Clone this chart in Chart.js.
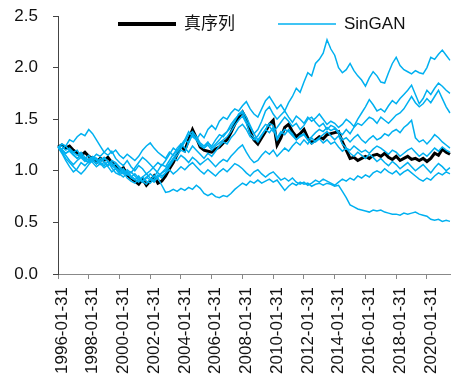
<!DOCTYPE html>
<html><head><meta charset="utf-8">
<script src="https://cdn.jsdelivr.net/npm/chart.js@4"></script>
<style>html,body{margin:0;padding:0;background:#fff}</style>
</head><body>
<canvas id="c" width="462" height="387"></canvas>
<script>
// Quarterly month-end categories, 1996-01 .. 2021-07
const startYear = 1996, nQuarters = 103;
const categories = [];
for (let q = 0; q < nQuarters; q++) {
  const y = startYear + Math.floor(q / 4), m = 1 + 3 * (q % 4);
  const d = new Date(Date.UTC(y, m, 0)).getUTCDate();
  categories.push(y + '-' + String(m).padStart(2, '0') + '-' + String(d).padStart(2, '0'));
}
const tickLabels = ['1996-01-31','1998-01-31','2000-01-31','2002-01-31','2004-01-31','2006-01-31',
  '2008-01-31','2010-01-31','2012-01-31','2014-01-31','2016-01-31','2018-01-31','2020-01-31'];
const yTicks = [0, 0.5, 1.0, 1.5, 2.0, 2.5];
const seriesNames = ['真序列', 'SinGAN'];

const realSeries = [
 1.23,1.25,1.22,1.24, 1.20,1.17,1.15,1.18, 1.14,1.12,1.08,1.12, 1.10,1.13,1.08,1.05,
 1.00,1.03,0.96,0.93, 0.90,0.87,0.92,0.86, 0.90,0.95,0.88,0.90, 0.95,1.02,1.08,1.16,
 1.24,1.20,1.30,1.40, 1.32,1.23,1.20,1.19, 1.18,1.21,1.23,1.27, 1.30,1.37,1.45,1.52,
 1.57,1.50,1.38,1.30, 1.26,1.32,1.38,1.45, 1.49,1.25,1.32,1.42, 1.45,1.38,1.33,1.36,
 1.40,1.32,1.27,1.30, 1.33,1.31,1.35,1.36, 1.37,1.38,1.28,1.20, 1.12,1.13,1.10,1.12,
 1.14,1.12,1.15,1.16, 1.14,1.17,1.13,1.11, 1.14,1.10,1.12,1.14, 1.11,1.12,1.10,1.12,
 1.09,1.12,1.17,1.15, 1.21,1.18,1.16];
const singan1 = [
 1.23,1.21,1.24,1.20, 1.18,1.15,1.18,1.13, 1.10,1.14,1.12,1.08, 1.05,1.09,1.03,0.98,
 0.96,0.99,0.93,0.90, 0.88,0.92,0.89,0.93, 0.97,0.94,1.00,1.06, 1.04,1.10,1.16,1.20,
 1.22,1.30,1.38,1.33, 1.30,1.36,1.32,1.40, 1.44,1.40,1.48,1.52, 1.50,1.56,1.60,1.58,
 1.63,1.67,1.60,1.55, 1.52,1.60,1.68,1.72, 1.66,1.60,1.64,1.58, 1.66,1.72,1.80,1.76,
 1.86,1.95,1.92,2.04, 2.08,2.14,2.27,2.18, 2.12,2.00,1.95,1.98, 2.04,1.97,1.92,1.88,
 1.82,1.90,1.96,1.92, 1.86,1.85,1.95,2.04, 2.10,2.02,1.98,1.96, 1.94,1.97,1.95,1.94,
 2.00,2.10,2.08,2.13, 2.17,2.12,2.07];
const singan2 = [
 1.23,1.26,1.24,1.30, 1.28,1.33,1.36,1.34, 1.40,1.36,1.30,1.24, 1.18,1.15,1.19,1.12,
 1.08,1.05,1.10,1.04, 1.00,1.05,1.02,0.97, 1.00,1.04,1.08,1.05, 1.10,1.16,1.22,1.19,
 1.25,1.30,1.27,1.35, 1.30,1.26,1.22,1.27, 1.24,1.30,1.35,1.33, 1.38,1.45,1.50,1.54,
 1.56,1.48,1.42,1.36, 1.40,1.48,1.58,1.62, 1.55,1.50,1.54,1.58, 1.52,1.47,1.53,1.50,
 1.46,1.52,1.48,1.51, 1.55,1.50,1.45,1.48, 1.46,1.42,1.45,1.50, 1.47,1.43,1.50,1.56,
 1.62,1.69,1.64,1.58, 1.60,1.57,1.63,1.68, 1.65,1.70,1.74,1.78, 1.83,1.74,1.65,1.70,
 1.78,1.74,1.80,1.85, 1.82,1.78,1.75];
const singan3 = [
 1.23,1.20,1.17,1.19, 1.15,1.12,1.16,1.10, 1.08,1.12,1.16,1.14, 1.18,1.22,1.17,1.20,
 1.15,1.12,1.16,1.13, 1.10,1.14,1.20,1.24, 1.27,1.22,1.18,1.15, 1.12,1.18,1.15,1.22,
 1.26,1.22,1.18,1.24, 1.20,1.16,1.12,1.17, 1.14,1.19,1.24,1.28, 1.26,1.32,1.36,1.42,
 1.45,1.40,1.33,1.30, 1.34,1.40,1.45,1.43, 1.38,1.42,1.47,1.52, 1.48,1.43,1.46,1.40,
 1.44,1.50,1.52,1.47, 1.43,1.46,1.40,1.44, 1.42,1.38,1.35,1.40, 1.36,1.42,1.46,1.44,
 1.48,1.52,1.50,1.46, 1.52,1.49,1.46,1.50, 1.54,1.56,1.60,1.66, 1.72,1.66,1.62,1.65,
 1.70,1.66,1.72,1.78, 1.70,1.62,1.56];
const singan4 = [
 1.23,1.17,1.10,1.04, 0.99,1.02,1.08,1.05, 1.09,1.13,1.10,1.06, 1.08,1.04,0.99,1.02,
 0.97,0.94,0.98,0.93, 0.91,0.95,0.90,0.87, 0.92,0.89,0.94,0.98, 1.00,1.06,1.12,1.18,
 1.22,1.28,1.35,1.38, 1.33,1.27,1.24,1.28, 1.22,1.26,1.30,1.35, 1.38,1.42,1.48,1.55,
 1.58,1.52,1.44,1.36, 1.30,1.35,1.40,1.46, 1.44,1.32,1.38,1.35, 1.40,1.36,1.30,1.34,
 1.36,1.30,1.33,1.37, 1.40,1.38,1.42,1.39, 1.41,1.36,1.30,1.32, 1.28,1.32,1.35,1.30,
 1.27,1.31,1.34,1.30, 1.32,1.36,1.34,1.38, 1.40,1.37,1.42,1.45, 1.49,1.32,1.28,1.30,
 1.26,1.30,1.35,1.32, 1.28,1.25,1.22];
const singan5 = [
 1.23,1.24,1.20,1.22, 1.18,1.20,1.14,1.12, 1.15,1.10,1.12,1.08, 1.12,1.09,1.05,1.07,
 1.02,0.98,1.00,0.95, 0.92,0.89,0.94,0.90, 0.88,0.92,0.96,0.93, 0.98,1.04,1.10,1.15,
 1.20,1.18,1.28,1.36, 1.30,1.24,1.22,1.25, 1.20,1.24,1.27,1.30, 1.33,1.38,1.44,1.49,
 1.53,1.46,1.36,1.32, 1.28,1.34,1.40,1.37, 1.42,1.30,1.36,1.40, 1.38,1.34,1.30,1.33,
 1.35,1.30,1.26,1.29, 1.32,1.35,1.38,1.34, 1.30,1.34,1.26,1.22, 1.20,1.24,1.21,1.18,
 1.20,1.17,1.21,1.24, 1.22,1.19,1.16,1.20, 1.18,1.14,1.17,1.20, 1.22,1.18,1.14,1.17,
 1.14,1.18,1.22,1.19, 1.23,1.20,1.18];
const singan6 = [
 1.23,1.19,1.15,1.10, 1.06,1.10,1.13,1.09, 1.12,1.08,1.04,1.07, 1.03,1.06,1.10,1.08,
 1.04,1.00,0.96,0.99, 0.95,0.91,0.94,0.97, 0.93,0.90,0.94,0.98, 1.02,1.07,1.12,1.10,
 1.15,1.12,1.08,1.13, 1.10,1.06,1.09,1.12, 1.08,1.04,1.08,1.11, 1.09,1.14,1.18,1.22,
 1.25,1.18,1.12,1.08, 1.10,1.15,1.19,1.16, 1.20,1.14,1.18,1.22, 1.19,1.24,1.28,1.25,
 1.30,1.26,1.32,1.28, 1.31,1.27,1.30,1.26, 1.28,1.23,1.19,1.22, 1.17,1.14,1.18,1.15,
 1.12,1.16,1.13,1.09, 1.12,1.08,1.05,1.09, 1.06,1.02,1.05,1.08, 1.04,1.00,1.03,1.06,
 1.02,0.98,1.03,1.07, 1.04,1.00,1.03];
const singan7 = [
 1.23,1.18,1.12,1.08, 1.04,1.00,0.97,1.01, 1.06,1.10,1.07,1.12, 1.09,1.05,1.08,1.03,
 1.00,0.97,1.01,0.98, 1.03,1.08,1.13,1.10, 1.06,1.02,0.98,0.95, 0.98,1.01,0.97,1.00,
 1.04,1.01,1.05,1.08, 1.04,1.00,0.97,1.01, 0.98,0.95,0.99,1.02, 0.99,1.03,1.07,1.05,
 1.02,0.98,0.95,0.99, 1.01,0.97,0.94,0.97, 0.99,0.95,0.91,0.93, 0.90,0.93,0.89,0.87,
 0.89,0.86,0.88,0.91, 0.89,0.92,0.90,0.88, 0.86,0.89,0.92,0.90, 0.93,0.91,0.95,0.93,
 0.96,0.94,0.98,1.00, 0.98,1.02,0.99,0.97, 1.00,0.96,0.99,1.01, 0.98,0.95,0.92,0.90,
 0.93,0.91,0.95,0.98, 0.96,0.99,0.97];
const singan8 = [
 1.23,1.21,1.17,1.20, 1.16,1.12,1.15,1.11, 1.08,1.11,1.07,1.10, 1.13,1.09,1.05,1.02,
 0.98,1.02,0.97,0.94, 0.97,0.93,0.90,0.94, 0.91,0.95,0.93,0.86, 0.79,0.80,0.82,0.80,
 0.83,0.81,0.84,0.82, 0.86,0.83,0.78,0.76, 0.78,0.75,0.74,0.76, 0.75,0.78,0.82,0.85,
 0.88,0.86,0.90,0.88, 0.91,0.88,0.90,0.92, 0.89,0.91,0.86,0.81, 0.85,0.88,0.86,0.89,
 0.87,0.88,0.85,0.87, 0.88,0.86,0.88,0.87, 0.85,0.86,0.80,0.74, 0.67,0.65,0.63,0.62,
 0.61,0.60,0.62,0.61, 0.62,0.60,0.59,0.58, 0.58,0.57,0.59,0.58, 0.59,0.60,0.58,0.57,
 0.56,0.53,0.52,0.53, 0.51,0.52,0.51];
const singanSeries = [singan1, singan2, singan3, singan4, singan5, singan6, singan7, singan8];

const BLACK = '#000000', BLUE = '#00B0F0';
const FONT = '"Liberation Sans", Arial, "Noto Sans CJK SC", sans-serif';

const datasets = [{
  label: seriesNames[0], data: realSeries, borderColor: BLACK, backgroundColor: BLACK,
  borderWidth: 3, pointRadius: 0, tension: 0, order: 1
}];
singanSeries.forEach((s) => datasets.push({
  label: seriesNames[1], data: s, borderColor: BLUE, backgroundColor: BLUE,
  borderWidth: 1.5, pointRadius: 0, tension: 0, order: 0
}));

// Legend drawn inside the plot area (as in the reference), one entry per series name
const legendItems = [
  { text: seriesNames[0], color: BLACK, width: 4, x: 118 },
  { text: seriesNames[1], color: BLUE, width: 1.5, x: 278 }
];
const insideLegend = {
  id: 'insideLegend',
  afterDatasetsDraw(chart) {
    const ctx = chart.ctx, y = chart.chartArea.top + 8;
    ctx.save();
    ctx.font = '17px ' + FONT;
    ctx.textBaseline = 'middle';
    ctx.textAlign = 'left';
    legendItems.forEach(it => {
      ctx.strokeStyle = it.color; ctx.lineWidth = it.width; ctx.lineCap = 'butt';
      ctx.beginPath(); ctx.moveTo(it.x, y); ctx.lineTo(it.x + 58, y); ctx.stroke();
      ctx.fillStyle = '#111';
      ctx.fillText(it.text, it.x + 66, y);
    });
    ctx.restore();
  }
};

new Chart(document.getElementById('c'), {
  type: 'line',
  data: { labels: categories, datasets },
  plugins: [insideLegend],
  options: {
    responsive: false, animation: false,
    layout: { padding: { left: 0, right: 12, top: 16, bottom: 0 } },
    plugins: { tooltip: { enabled: false }, legend: { display: false } },
    scales: {
      x: {
        type: 'category',
        offset: false,
        afterFit(s) { s.height = 113; },
        grid: { display: true, drawOnChartArea: false, drawTicks: true, tickLength: 5, color: '#888' },
        border: { display: true, color: '#888', width: 1 },
        ticks: {
          autoSkip: false, minRotation: 90, maxRotation: 90, padding: 8, labelOffset: 4,
          color: '#111', font: { family: FONT, size: 17 },
          callback(v, i) { const l = categories[i]; return tickLabels.includes(l) ? l : null; }
        }
      },
      y: {
        min: 0, max: 2.5,
        afterFit(s) { s.width = 58; s.paddingTop = 10; s.paddingBottom = 10; },
        afterBuildTicks(s) { s.ticks = yTicks.map(v => ({ value: v })); },
        grid: { display: true, drawOnChartArea: false, drawTicks: true, tickLength: 5, color: '#444' },
        border: { display: true, color: '#444', width: 1 },
        ticks: {
          padding: 15, color: '#111', font: { family: FONT, size: 17 },
          callback(v) { return Number(v).toFixed(1); }
        }
      }
    }
  }
});
</script>
</body></html>
